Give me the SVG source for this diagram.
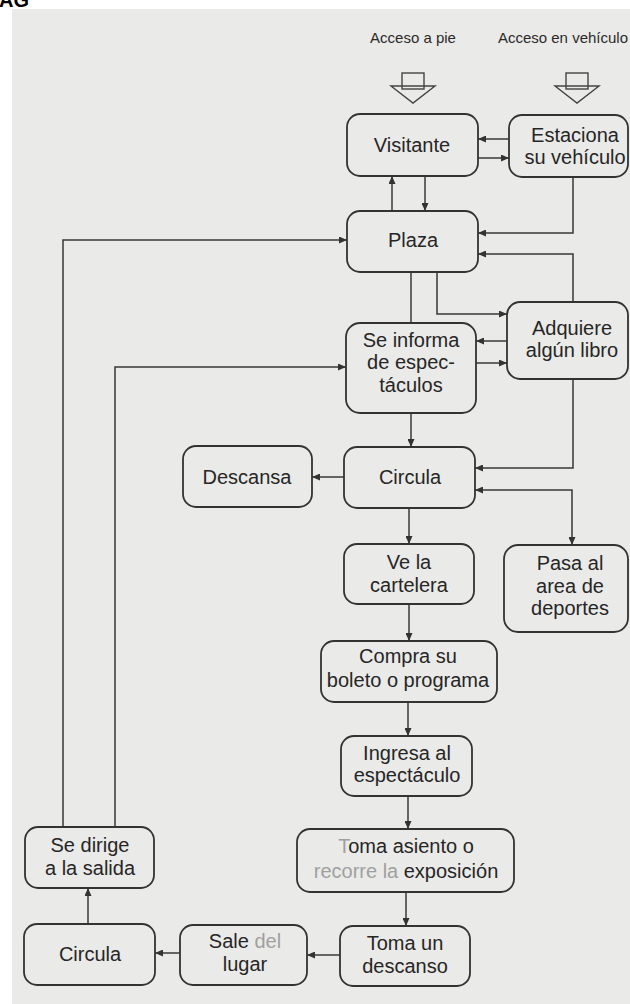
<svg xmlns="http://www.w3.org/2000/svg" width="630" height="1004" viewBox="0 0 630 1004">
<defs>
<style>
.node rect{fill:none;stroke:#333333;stroke-width:1.8}
.node text{font-family:"Liberation Sans",Arial,sans-serif;font-size:20px;fill:#262626;text-anchor:middle}
.conn path{fill:none;stroke:#383838;stroke-width:1.5}
.lbl{font-family:"Liberation Sans",Arial,sans-serif;font-size:15px;fill:#2a2a2a}
.blk{fill:none;stroke:#444444;stroke-width:1.4}
.fade{fill:#a0a0a0}
</style>
<marker id="ah" markerWidth="8" markerHeight="7" refX="8" refY="3.5" orient="auto-start-reverse" markerUnits="userSpaceOnUse">
<path d="M0,0 L8,3.5 L0,7 z" fill="#333333"/>
</marker>
</defs>
<rect x="0" y="0" width="630" height="1004" fill="#ffffff"/>
<rect x="12" y="9" width="618" height="995" fill="#eaeae8"/>
<text x="-1" y="7" style="font-family:'Liberation Sans',Arial,sans-serif;font-size:20px;font-weight:bold;fill:#000">AG</text>

<g id="access">
<text class="lbl" x="413" y="43" text-anchor="middle">Acceso a pie</text>
<text class="lbl" x="628" y="43" text-anchor="end">Acceso en vehículo</text>
<rect class="blk" x="402" y="73" width="22" height="16"/>
<path class="blk" d="M391,86 L435,86 L413,103 Z"/>
<rect class="blk" x="566" y="73" width="22" height="16"/>
<path class="blk" d="M555,86 L599,86 L577,103 Z"/>
</g>

<g class="conn">
<path d="M425,176 V211" marker-end="url(#ah)"/>
<path d="M392,211 V176" marker-end="url(#ah)"/>
<path d="M509,139 H478" marker-end="url(#ah)"/>
<path d="M478,158 H509" marker-end="url(#ah)"/>
<path d="M573,177 V233 H478" marker-end="url(#ah)"/>
<path d="M573,302 V254 H478" marker-end="url(#ah)"/>
<path d="M437,272 V314 H507" marker-end="url(#ah)"/>
<path d="M411,272 V323"/>
<path d="M507,341 H476" marker-end="url(#ah)"/>
<path d="M476,363 H507" marker-end="url(#ah)"/>
<path d="M411,413 V447" marker-end="url(#ah)"/>
<path d="M573,379 V468 H475" marker-end="url(#ah)"/>
<path d="M475,490 H572 V545" marker-start="url(#ah)" marker-end="url(#ah)"/>
<path d="M344,477 H312" marker-end="url(#ah)"/>
<path d="M409,508 V544" marker-end="url(#ah)"/>
<path d="M409,604 V641" marker-end="url(#ah)"/>
<path d="M408,702 V736" marker-end="url(#ah)"/>
<path d="M408,796 V829" marker-end="url(#ah)"/>
<path d="M406,892 V926" marker-end="url(#ah)"/>
<path d="M340,955 H307" marker-end="url(#ah)"/>
<path d="M180,953 H155" marker-end="url(#ah)"/>
<path d="M88,924 V888" marker-end="url(#ah)"/>
<path d="M63,827 V240 H347" marker-end="url(#ah)"/>
<path d="M115,827 V367 H346" marker-end="url(#ah)"/>
</g>

<g id="visitante" class="node"><rect x="347" y="114" width="131" height="62" rx="13"/><text x="412" y="152">Visitante</text></g>
<g id="estaciona" class="node"><rect x="509" y="115" width="119" height="62" rx="13"/><text x="575" y="142">Estaciona</text><text x="575" y="164">su vehículo</text></g>
<g id="plaza" class="node"><rect x="347" y="211" width="131" height="61" rx="13"/><text x="413" y="247">Plaza</text></g>
<g id="adquiere" class="node"><rect x="507" y="302" width="121" height="77" rx="13"/><text x="572" y="335">Adquiere</text><text x="572" y="357">algún libro</text></g>
<g id="seinforma" class="node"><rect x="346" y="323" width="130" height="90" rx="14"/><text x="411" y="347">Se informa</text><text x="411" y="369">de espec-</text><text x="411" y="392">táculos</text></g>
<g id="descansa" class="node"><rect x="183" y="446" width="129" height="61" rx="13"/><text x="247" y="484">Descansa</text></g>
<g id="circula1" class="node"><rect x="344" y="447" width="131" height="61" rx="13"/><text x="410" y="484">Circula</text></g>
<g id="pasa" class="node"><rect x="504" y="545" width="124" height="87" rx="14"/><text x="570" y="570">Pasa al</text><text x="570" y="593">area de</text><text x="570" y="615">deportes</text></g>
<g id="ve" class="node"><rect x="344" y="544" width="130" height="60" rx="13"/><text x="409" y="569">Ve la</text><text x="409" y="592">cartelera</text></g>
<g id="compra" class="node"><rect x="321" y="641" width="176" height="61" rx="13"/><text x="408" y="663">Compra su</text><text x="408" y="687">boleto o programa</text></g>
<g id="ingresa" class="node"><rect x="341" y="736" width="131" height="60" rx="13"/><text x="407" y="760">Ingresa al</text><text x="407" y="782">espectáculo</text></g>
<g id="tomaasiento" class="node"><rect x="297" y="829" width="217" height="63" rx="13"/><text x="406" y="853"><tspan class="fade">T</tspan>oma asiento o</text><text x="406" y="878"><tspan class="fade">recorre la </tspan>exposición</text></g>
<g id="tomadescanso" class="node"><rect x="340" y="926" width="130" height="60" rx="13"/><text x="405" y="950">Toma un</text><text x="405" y="973">descanso</text></g>
<g id="sale" class="node"><rect x="180" y="925" width="127" height="60" rx="13"/><text x="245" y="948">Sale <tspan class="fade">del</tspan></text><text x="245" y="971">lugar</text></g>
<g id="circula2" class="node"><rect x="24" y="924" width="131" height="61" rx="13"/><text x="90" y="961">Circula</text></g>
<g id="sedirige" class="node"><rect x="25" y="827" width="129" height="61" rx="13"/><text x="90" y="852">Se dirige</text><text x="90" y="875">a la salida</text></g>
</svg>
